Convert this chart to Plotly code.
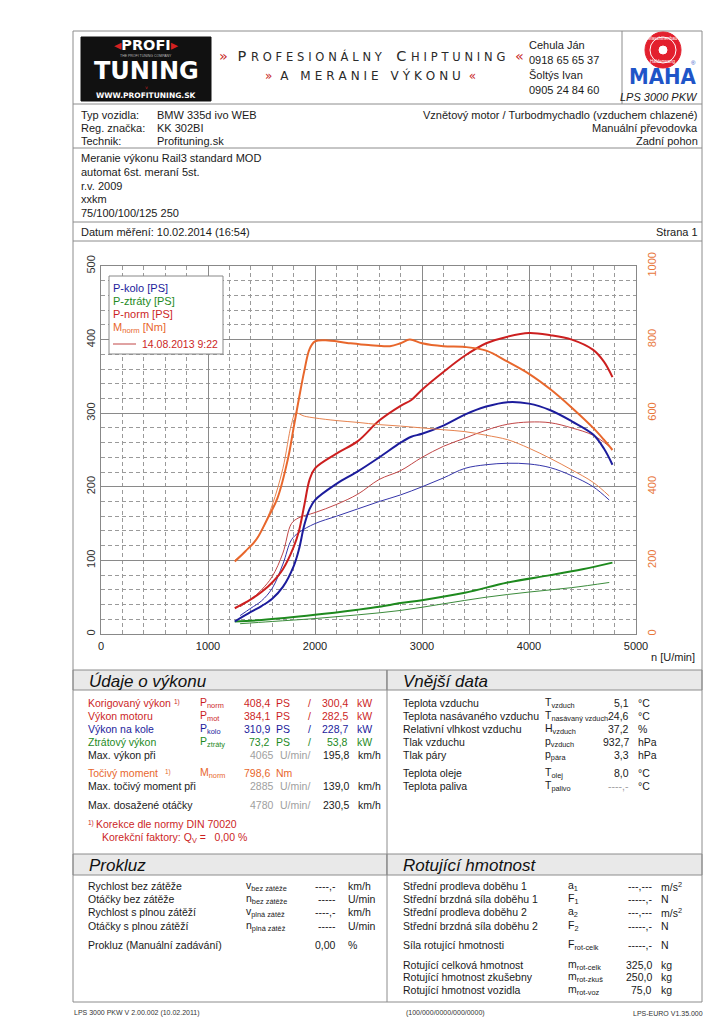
import plotly.graph_objects as go

# ---------------- data ----------------
rpm_now = [1250, 1400, 1500, 1600, 1700, 1800, 1850, 1900, 1950, 2000, 2200, 2400, 2600,
           2800, 2900, 3000, 3200, 3400, 3600, 3800, 4000, 4200, 4400, 4600, 4700, 4780]
p_norm_now = [35, 47, 57, 70, 88, 118, 140, 175, 210, 225, 245, 262, 290,
              310, 318, 332, 356, 378, 395, 404, 409, 406, 400, 386, 370, 349]
p_kolo_now = [17, 30, 38, 48, 64, 92, 115, 148, 170, 182, 204, 221, 240,
              260, 268, 272, 283, 298, 309, 315, 313, 304, 289, 271, 252, 230]
rpm_loss_now = [1250, 1500, 2000, 2400, 2600, 2800, 3000, 3400, 3800, 4200, 4500, 4780]
p_ztraty_now = [17, 19, 26, 33, 37, 42, 46, 56, 70, 80, 88, 97]
rpm_m_now = [1250, 1350, 1450, 1550, 1650, 1750, 1800, 1850, 1900, 1950, 2000, 2100, 2300, 2500,
             2700, 2800, 2885, 3000, 3200, 3400, 3600, 3800, 4000, 4200, 4400, 4600, 4700, 4780]
m_norm_now = [197, 225, 256, 310, 370, 480, 560, 640, 715, 775, 795, 798, 791, 785,
              782, 790, 800, 790, 782, 780, 770, 740, 707, 665, 615, 560, 528, 500]

rpm_old = [1300, 1400, 1500, 1600, 1700, 1780, 1850, 2000, 2200, 2400, 2600, 2800, 3000,
           3200, 3400, 3600, 3800, 4000, 4200, 4400, 4600, 4750]
p_norm_old = [37, 47, 60, 78, 110, 150, 158, 165, 176, 190, 210, 222, 240,
              255, 266, 277, 285, 288, 287, 280, 270, 255]
p_kolo_old = [25, 35, 45, 62, 95, 128, 138, 150, 160, 170, 180, 189, 200,
              212, 225, 230, 232, 231, 226, 215, 200, 182]
rpm_loss_old = [1300, 1600, 2000, 2400, 2800, 3200, 3600, 4000, 4400, 4750]
p_ztraty_old = [14, 17, 21, 26, 32, 41, 50, 57, 63, 70]
rpm_m_old = [1250, 1400, 1500, 1600, 1700, 1780, 1820, 1900, 2000, 2200, 2400, 2600, 2800,
             3000, 3200, 3400, 3600, 3800, 4000, 4200, 4400, 4600, 4750]
m_norm_old = [200, 240, 280, 350, 450, 570, 600, 592, 587, 580, 575, 569, 565,
              560, 555, 550, 540, 528, 505, 477, 446, 412, 375]

x_ticks = [0, 1000, 2000, 3000, 4000, 5000]
ps_ticks = [0, 100, 200, 300, 400, 500]
nm_ticks = [0, 200, 400, 600, 800, 1000]

# ---------------- helpers ----------------
OFF = 8                      # the page body margin
W, H = 723 - OFF, 1024 - OFF
FONT = "Liberation Sans, Arial, sans-serif"
BLUE = "#1c1c9c"
GREEN = "#1e8a1e"
RED = "#cc1f1f"
ORANGE = "#e8672c"
LINE = "#8c8c8c"
FS = 10.5                    # table font size
RB = 702                     # right border


def X(px):
    return (px - OFF) / W


def Y(py):
    return 1 - (py - OFF) / H


annotations = []
shapes = []


def txt(x, y, s, size=FS, color="#1a1a1a", anchor="left", family=FONT):
    annotations.append(dict(x=X(x), y=Y(y), text=s, xref="paper", yref="paper",
                            showarrow=False, xanchor=anchor, yanchor="middle",
                            font=dict(family=family, size=size, color=color), borderpad=0))


def hline(y, x0=73, x1=RB, color=LINE, width=1):
    shapes.append(dict(type="line", xref="paper", yref="paper", x0=X(x0), x1=X(x1),
                       y0=Y(y), y1=Y(y), line=dict(color=color, width=width)))


def vline(x, y0, y1, color=LINE, width=1):
    shapes.append(dict(type="line", xref="paper", yref="paper", x0=X(x), x1=X(x),
                       y0=Y(y0), y1=Y(y1), line=dict(color=color, width=width)))


def rect(x0, y0, x1, y1, fill=None, color=LINE, width=1, layer="above"):
    shapes.append(dict(type="rect", xref="paper", yref="paper", x0=X(x0), x1=X(x1),
                       y0=Y(y1), y1=Y(y0), fillcolor=fill if fill else "rgba(0,0,0,0)",
                       line=dict(color=color, width=width), layer=layer))


def circ(cx, cy, r, fill, color, width=1):
    shapes.append(dict(type="circle", xref="paper", yref="paper", x0=X(cx - r), x1=X(cx + r),
                       y0=Y(cy + r), y1=Y(cy - r), fillcolor=fill,
                       line=dict(color=color, width=width)))


def spaced(s, sp="\u2004"):
    return sp.join(s)


# ---------------- figure & curves ----------------
fig = go.Figure()
# old run 14.08.2013 (thin)
fig.add_trace(go.Scatter(x=rpm_loss_old, y=p_ztraty_old, mode="lines", line=dict(color="#3c8c3c", width=1, shape="spline"), yaxis="y"))
fig.add_trace(go.Scatter(x=rpm_old, y=p_kolo_old, mode="lines", line=dict(color="#3535aa", width=1, shape="spline"), yaxis="y"))
fig.add_trace(go.Scatter(x=rpm_old, y=p_norm_old, mode="lines", line=dict(color="#c14646", width=1, shape="spline"), yaxis="y"))
fig.add_trace(go.Scatter(x=rpm_m_old, y=m_norm_old, mode="lines", line=dict(color="#e7834f", width=1, shape="spline"), yaxis="y2"))
# current run (thick)
fig.add_trace(go.Scatter(x=rpm_loss_now, y=p_ztraty_now, mode="lines", line=dict(color=GREEN, width=2, shape="spline"), yaxis="y"))
fig.add_trace(go.Scatter(x=rpm_now, y=p_kolo_now, mode="lines", line=dict(color=BLUE, width=2, shape="spline"), yaxis="y"))
fig.add_trace(go.Scatter(x=rpm_now, y=p_norm_now, mode="lines", line=dict(color=RED, width=2, shape="spline"), yaxis="y"))
fig.add_trace(go.Scatter(x=rpm_m_now, y=m_norm_now, mode="lines", line=dict(color=ORANGE, width=2, shape="spline"), yaxis="y2"))

# ---------------- page frame ----------------
rect(73, 31, RB, 1002, color=LINE)
hline(104)
vline(622, 31, 104)
hline(148)
hline(222)
hline(241)
rect(73, 670, 387, 690, fill="#e9e9e9", layer="below")
rect(387, 670, RB, 690, fill="#e9e9e9", layer="below")
rect(73, 854, 387, 875, fill="#e9e9e9", layer="below")
rect(387, 854, RB, 875, fill="#e9e9e9", layer="below")
vline(387, 670, 1002)

# ---------------- header ----------------
rect(81, 37, 211, 101, fill="#111111", color="#111111")
txt(146, 45, "<span style='color:#d42020'>◂</span><b>PROFI</b><span style='color:#d42020'>▸</span>", size=14.5, color="white", anchor="center", family="DejaVu Sans")
txt(146, 55.5, "THE PROFI TUNING COMPANY", size=3.5, color="#bbbbbb", anchor="center")
txt(146, 71, "<b>TUNING</b>", size=24, color="white", anchor="center", family="DejaVu Sans")
txt(146, 88.5, "˅", size=5, color="#d42020", anchor="center")
txt(146, 96, "<b>WWW.PROFITUNING.SK</b>", size=7.5, color="white", anchor="center", family="DejaVu Sans")

sc = "font-size:11.5px"
line1 = ("<span style='color:#c81e1e'>»</span>\u2004\u2004P\u2004<span style='%s'>%s</span>\u2004\u2004\u2004C\u2004"
         "<span style='%s'>%s</span>\u2004\u2004<span style='color:#c81e1e'>«</span>") % (
    sc, spaced("ROFESIONÁLNY"), sc, spaced("HIPTUNING"))
txt(372, 56, line1, size=14.5, color="#2a2a2a", anchor="center", family="DejaVu Sans")
line2 = "<span style='color:#c81e1e'>»</span>\u2004\u2004%s\u2004\u2004<span style='color:#c81e1e'>«</span>" % (
    "\u2004\u2004\u2004".join(spaced(w) for w in ["A", "MERANIE", "VÝKONU"]))
txt(370, 76, line2, size=12, color="#2a2a2a", anchor="center", family="DejaVu Sans")
txt(528, 45, "Cehula Ján", size=11)
txt(528, 60, "0918 65 65 37", size=11)
txt(528, 75, "Šoltýs Ivan", size=11)
txt(528, 90, "0905 24 84 60", size=11)

circ(663, 50, 18, "#e3202e", "#e3202e")
circ(663, 50, 13, "rgba(0,0,0,0)", "white", 1)
circ(663, 50, 4, "white", "white")
txt(663, 39, "Maschinenbau", size=4.5, color="white", anchor="center")
txt(663, 61, "Haldenwang", size=4.5, color="white", anchor="center")
txt(663, 76.5, "<b>MAHA</b>", size=22, color="#1f55c8", anchor="center", family="DejaVu Sans Condensed, DejaVu Sans")
txt(693, 63, "®", size=6, color="#1f55c8", anchor="center")
txt(699, 97, "<i>LPS 3000 PKW</i>", size=11, anchor="right")

# ---------------- vehicle info ----------------
txt(80, 115, "Typ vozidla:", size=11)
txt(80, 128, "Reg. značka:", size=11)
txt(80, 141, "Technik:", size=11)
txt(156, 115, "BMW 335d ivo WEB", size=11)
txt(156, 128, "KK 302BI", size=11)
txt(156, 141, "Profituning.sk", size=11)
txt(699, 115, "Vznětový motor / Turbodmychadlo (vzduchem chlazené)", anchor="right", size=11)
txt(699, 128, "Manuální převodovka", anchor="right", size=11)
txt(699, 141, "Zadní pohon", anchor="right", size=11)
for i, s in enumerate(["Meranie výkonu Rail3 standard MOD", "automat 6st. meraní 5st.", "r.v. 2009", "xxkm", "75/100/100/125 250"]):
    txt(80, 158 + i * 13.8, s, size=11)
txt(80, 232, "Datum měření: 10.02.2014 (16:54)", size=11)
txt(699, 232, "Strana 1", anchor="right", size=11)

# ---------------- chart legend ----------------
rect(109, 276, 223, 354, fill="white", color="#888888")
txt(112, 288, "P-kolo [PS]", size=11, color=BLUE)
txt(112, 301, "P-ztráty [PS]", size=11, color=GREEN)
txt(112, 314, "P-norm [PS]", size=11, color=RED)
txt(112, 328, "M<sub>norm</sub> [Nm]", size=11, color=ORANGE)
hline(344, 113, 136, color="#c14646", width=1)
txt(141, 344, "14.08.2013 9:22", size=10.5, color=RED)
txt(650, 657, "n [U/min]", size=11)

# ---------------- Údaje o výkonu ----------------
txt(88, 681, "<i>Údaje o výkonu</i>", size=17, color="#111")
rows = [
    (703, "Korigovaný výkon", "P<sub>norm</sub>", "408,4", "PS", "300,4", "kW", RED, True),
    (716, "Výkon motoru", "P<sub>mot</sub>", "384,1", "PS", "282,5", "kW", RED, False),
    (729, "Výkon na kole", "P<sub>kolo</sub>", "310,9", "PS", "228,7", "kW", BLUE, False),
    (742, "Ztrátový výkon", "P<sub>ztráty</sub>", "73,2", "PS", "53,8", "kW", GREEN, False),
]
for y, lab, sym, v1, u1, v2, u2, col, note in rows:
    txt(87, y, lab, color=col)
    if note:
        txt(173, y - 1, "1)", size=6.5, color=col)
    txt(199, y, sym, color=col)
    txt(271, y, v1, color=col, anchor="right")
    txt(275, y, u1, color=col)
    txt(309, y, "/", color=col, anchor="center")
    txt(349, y, v2, color=col, anchor="right")
    txt(356, y, u2, color=col)

for y, lab, rpmv, kmh in [(755, "Max. výkon při", "4065", "195,8"),
                          (786, "Max. točivý moment při", "2885", "139,0"),
                          (805, "Max. dosažené otáčky", "4780", "230,5")]:
    txt(87, y, lab)
    txt(275, y, rpmv, color="#a0a0a0", anchor="right")
    txt(279, y, "U/min/", color="#a0a0a0")
    txt(350, y, kmh, anchor="right")
    txt(357, y, "km/h")
txt(87, 773, "Točivý moment", color=ORANGE)
txt(164, 772, "1)", size=6.5, color=ORANGE)
txt(199, 773, "M<sub>norm</sub>", color=ORANGE)
txt(271, 773, "798,6", color=ORANGE, anchor="right")
txt(275, 773, "Nm", color=ORANGE)
txt(87, 823, "1)", size=6.5, color=RED)
txt(95, 824, "Korekce dle normy DIN 70020", color=RED)
txt(101, 838, "Korekční faktory: Q<sub>V</sub> =   0,00 %", color=RED)

# ---------------- Vnější data ----------------
txt(402, 681, "<i>Vnější data</i>", size=17, color="#111")
ext = [(703, "Teplota vzduchu", "T<sub>vzduch</sub>", "5,1", "°C"),
       (716, "Teplota nasávaného vzduchu", "T<sub>nasávaný vzduch</sub>", "24,6", "°C"),
       (729, "Relativní vlhkost vzduchu", "H<sub>vzduch</sub>", "37,2", "%"),
       (742, "Tlak vzduchu", "p<sub>vzduch</sub>", "932,7", "hPa"),
       (755, "Tlak páry", "p<sub>pára</sub>", "3,3", "hPa"),
       (773, "Teplota oleje", "T<sub>olej</sub>", "8,0", "°C"),
       (786, "Teplota paliva", "T<sub>palivo</sub>", "----,-", "°C")]
for y, lab, sym, val, unit in ext:
    txt(402, y, lab)
    txt(544, y, sym)
    txt(630, y, val, anchor="right", color="#a0a0a0" if val.startswith("-") else "#1a1a1a")
    txt(637, y, unit)

# ---------------- Prokluz ----------------
txt(88, 865, "<i>Prokluz</i>", size=17, color="#111")
slip = [(886, "Rychlost bez zátěže", "v<sub>bez zátěže</sub>", "----,-", "km/h"),
        (899, "Otáčky bez zátěže", "n<sub>bez zátěže</sub>", "-----", "U/min"),
        (912, "Rychlost s plnou zátěží", "v<sub>plná zátěž</sub>", "----,-", "km/h"),
        (926, "Otáčky s plnou zátěží", "n<sub>plná zátěž</sub>", "-----", "U/min")]
for y, lab, sym, val, unit in slip:
    txt(87, y, lab)
    txt(245, y, sym)
    txt(337, y, val, anchor="right")
    txt(347, y, unit)
txt(87, 945, "Prokluz (Manuální zadávání)")
txt(337, 945, "0,00", anchor="right")
txt(347, 945, "%")

# ---------------- Rotující hmotnost ----------------
txt(402, 865, "<i>Rotující hmotnost</i>", size=17, color="#111")
rot = [(886, "Střední prodleva doběhu 1", "a<sub>1</sub>", "---,---", "m/s<sup>2</sup>"),
       (899, "Střední brzdná síla doběhu 1", "F<sub>1</sub>", "-----,-", "N"),
       (912, "Střední prodleva doběhu 2", "a<sub>2</sub>", "---,---", "m/s<sup>2</sup>"),
       (926, "Střední brzdná síla doběhu 2", "F<sub>2</sub>", "-----,-", "N"),
       (945, "Síla rotující hmotnosti", "F<sub>rot-celk</sub>", "-----,-", "N"),
       (965, "Rotující celková hmotnost", "m<sub>rot-celk</sub>", "325,0", "kg"),
       (977, "Rotující hmotnost zkušebny", "m<sub>rot-zkuš</sub>", "250,0", "kg"),
       (990, "Rotující hmotnost vozidla", "m<sub>rot-voz</sub>", "75,0", "kg")]
for y, lab, sym, val, unit in rot:
    txt(402, y, lab)
    txt(567, y, sym)
    txt(653, y, val, anchor="right")
    txt(660, y, unit)

# ---------------- footer ----------------
txt(73, 1013, "LPS 3000 PKW V 2.00.002 (10.02.2011)", size=7, color="#333")
txt(405, 1013, "(100/000/0000/000/0000)", size=7, color="#333")
txt(RB + 2, 1013, "LPS-EURO V1.35.000", size=7, color="#333", anchor="right")

# ---------------- layout ----------------
x0, x1, yt, yb = 101, 636, 266, 634
grid_minor = dict(showgrid=True, gridcolor="#9a9a9a", griddash="4px,3px", gridwidth=1)
fig.update_layout(
    width=W, height=H, autosize=False, showlegend=False,
    margin=dict(l=0, r=0, t=0, b=0),
    paper_bgcolor="white", plot_bgcolor="white",
    xaxis=dict(domain=[X(x0), X(x1)], range=[0, 5000], tickvals=x_ticks,
               ticktext=[str(v) for v in x_ticks], showgrid=True, gridcolor="#8a8a8a",
               minor=dict(dtick=200, **grid_minor), zeroline=False, showline=True,
               linecolor="#888", mirror=True, ticks="", automargin=False,
               tickfont=dict(family=FONT, size=11, color="#222"), ticklabelstandoff=2),
    yaxis=dict(domain=[Y(yb), Y(yt)], range=[0, 500], tickvals=ps_ticks,
               ticktext=[str(v) for v in ps_ticks], showgrid=True, gridcolor="#8a8a8a",
               minor=dict(dtick=20, **grid_minor), zeroline=False, showline=True,
               linecolor="#888", mirror=True, ticks="", automargin=False, tickangle=-90,
               tickfont=dict(family=FONT, size=11, color="#333"), ticklabelstandoff=1),
    yaxis2=dict(overlaying="y", side="right", range=[0, 1000], tickvals=nm_ticks,
                ticktext=[str(v) for v in nm_ticks], showgrid=False, zeroline=False,
                ticks="", automargin=False, tickangle=-90, showline=False,
                tickfont=dict(family=FONT, size=11, color="#e8773c"), ticklabelstandoff=8),
    annotations=annotations, shapes=shapes,
)

fig.write_html("out.html")
